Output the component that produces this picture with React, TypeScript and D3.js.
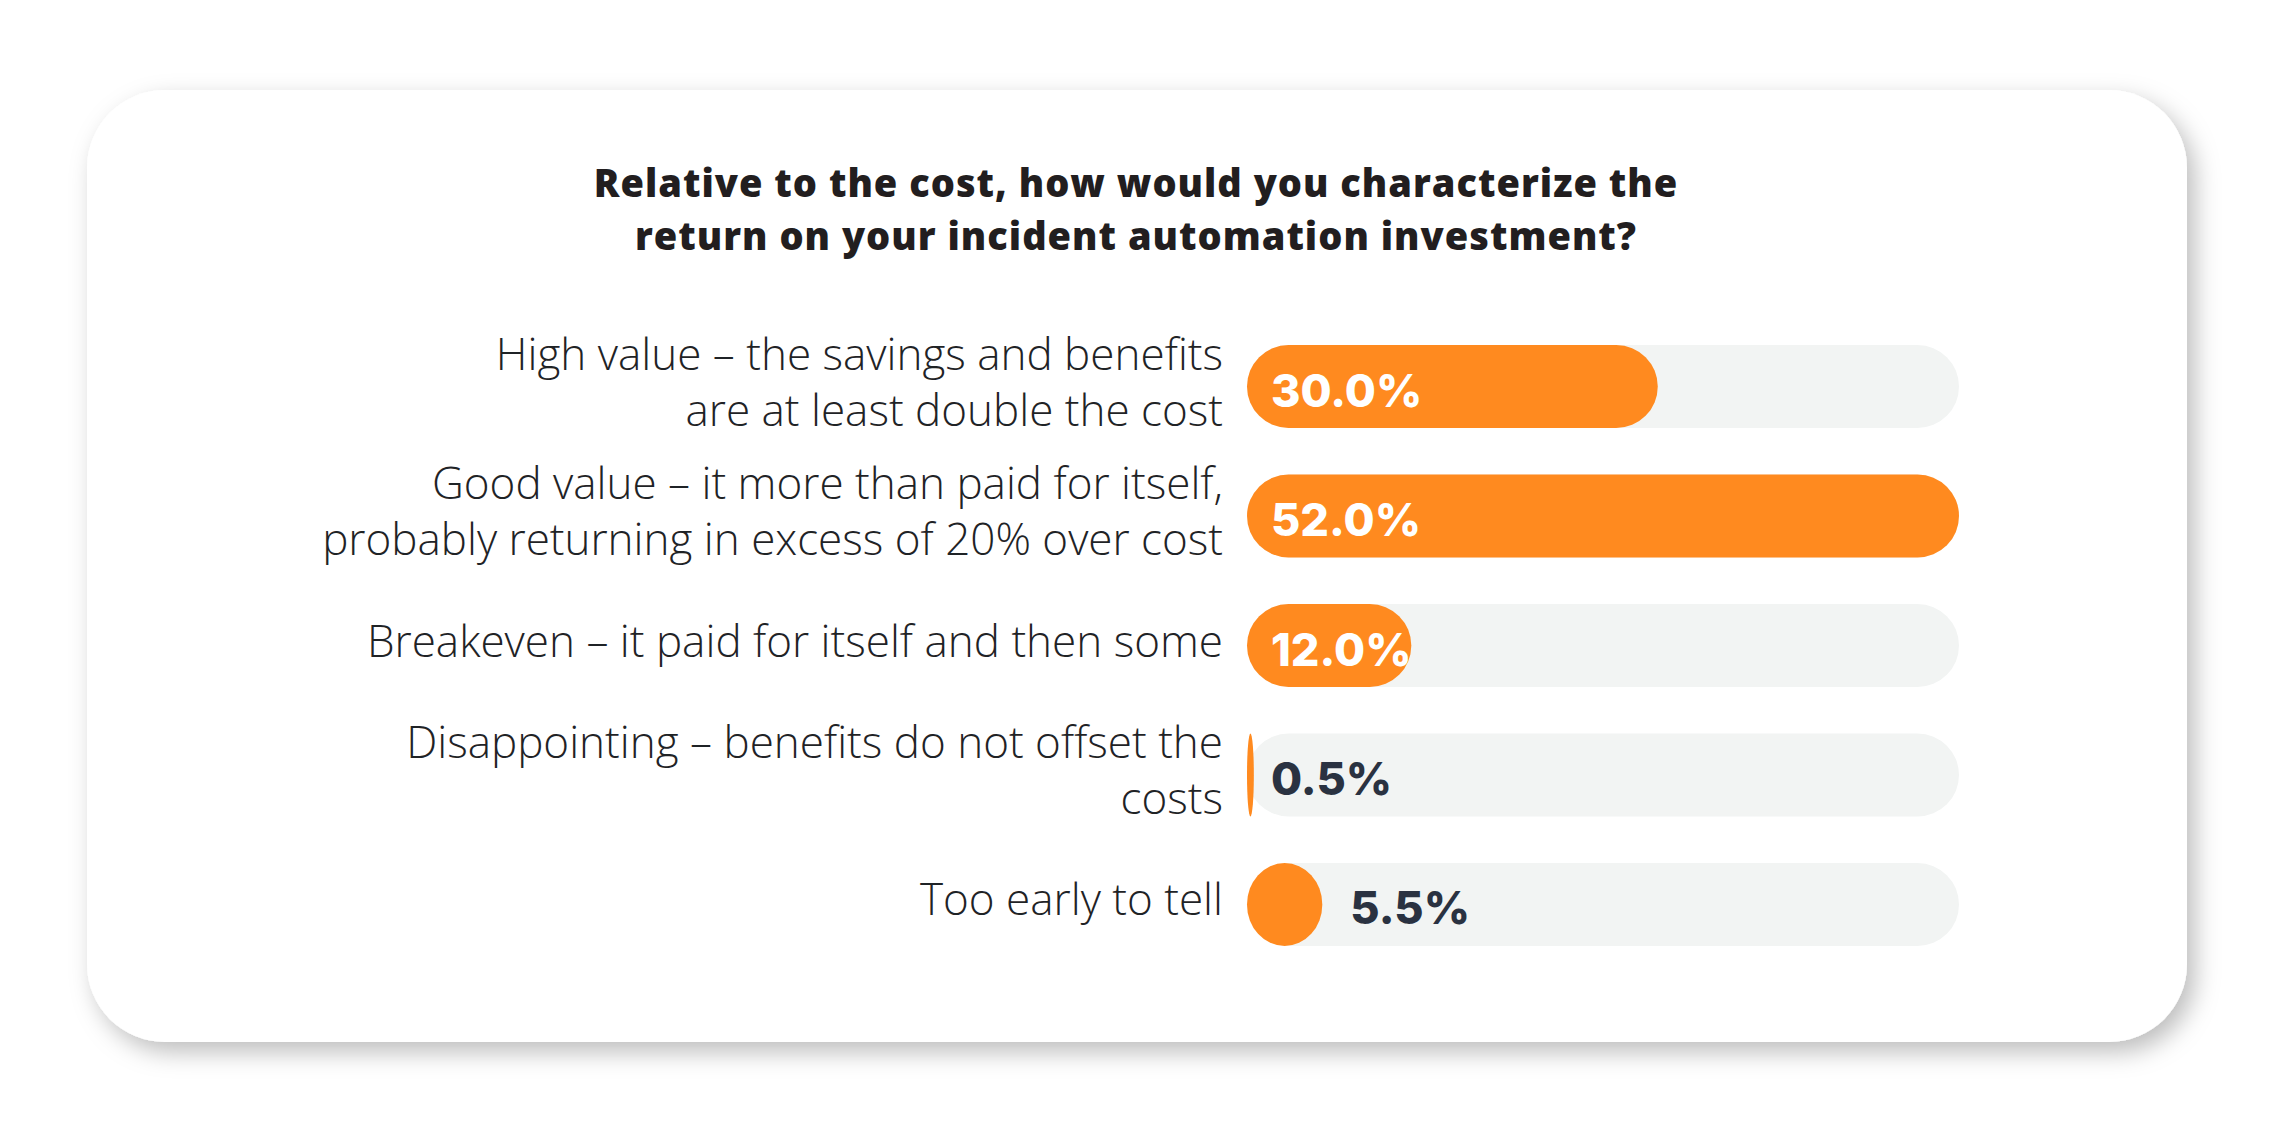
import React from "react";
import * as d3 from "d3";

const titleLines = [
  "Relative to the cost, how would you characterize the",
  "return on your incident automation investment?",
];
const categories = ["high", "good", "breakeven", "disappointing", "early"];
const categoryLabels: string[][] = [
  ["High value – the savings and benefits", "are at least double the cost"],
  ["Good value – it more than paid for itself,", "probably returning in excess of 20% over cost"],
  ["Breakeven – it paid for itself and then some"],
  ["Disappointing – benefits do not offset the", "costs"],
  ["Too early to tell"],
];
const values = [30.0, 52.0, 12.0, 0.5, 5.5];

const W = 2274;
const H = 1132;
const ORANGE = "#FF8A1F";
const TRACK = "#F2F4F3";

export default function App() {
  const x = d3.scaleLinear().domain([0, d3.max(values) as number]).range([1247, 1959]);
  const y = d3
    .scaleBand<string>()
    .domain(categories)
    .range([345, 946])
    .paddingInner(0.359)
    .paddingOuter(0);
  const bw = y.bandwidth();
  const fmt = d3.format(".1f");
  const labelRight = 1223;
  const lineGap = 56;

  return (
    <svg
      width={W}
      height={H}
      style={{ position: "absolute", left: 0, top: 0, background: "#fff" }}
    >
      <defs>
        <filter id="cardShadow" x="-10%" y="-10%" width="120%" height="125%">
          <feDropShadow dx="8" dy="10" stdDeviation="12" floodColor="#000" floodOpacity="0.26" />
        </filter>
      </defs>
      <rect x={87} y={90} width={2100} height={952} rx={78} ry={78} fill="#fff" filter="url(#cardShadow)" />

      {titleLines.map((t, i) => (
        <text
          key={i}
          x={1136}
          y={197 + i * 53}
          textAnchor="middle"
          fontFamily="'Open Sans', sans-serif"
          fontWeight={800}
          fontSize={38}
          letterSpacing={1}
          fill="#221e1f"
        >
          {t}
        </text>
      ))}

      {categories.map((c, i) => {
        const top = y(c) as number;
        const cy = top + bw / 2;
        const lines = categoryLabels[i];
        const v = values[i];
        const x0 = x(0);
        const x1 = x(v);
        const barW = x1 - x0;
        const inside = barW > 150;
        const lx = inside || barW < 24 ? x0 + 24 : x1 + 28;
        const baseMid = cy + 11;
        return (
          <g key={c}>
            <rect x={x0} y={top} width={x(52) - x0} height={bw} rx={bw / 2} ry={bw / 2} fill={TRACK} />
            <rect x={x0} y={top} width={barW} height={bw} rx={bw / 2} ry={bw / 2} fill={ORANGE} />
            {lines.map((ln, j) => (
              <text
                key={j}
                x={labelRight}
                y={baseMid + (j - (lines.length - 1) / 2) * lineGap}
                textAnchor="end"
                fontFamily="'Open Sans', sans-serif"
                fontWeight={300}
                fontSize={44}
                fill="#1f2326"
              >
                {ln}
              </text>
            ))}
            <text
              x={lx}
              y={cy + 20}
              fontFamily="Inter, sans-serif"
              fontWeight={800}
              fontSize={45}
              fill={inside ? "#fff" : "#2a3241"}
            >
              {fmt(v) + "%"}
            </text>
          </g>
        );
      })}
    </svg>
  );
}
